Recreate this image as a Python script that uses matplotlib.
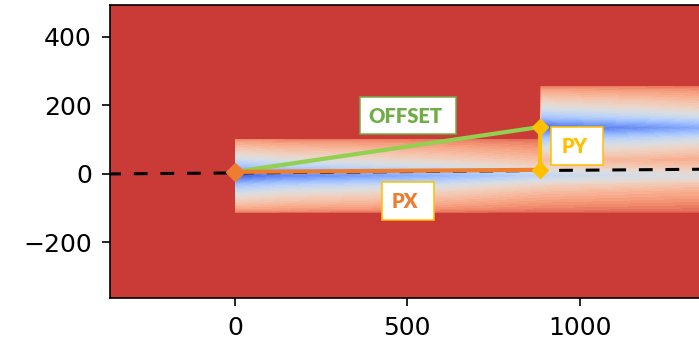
import numpy as np
import matplotlib.pyplot as plt
from matplotlib.patches import Rectangle

# --- turbines (position of rotor, wake core, wake half width) ---
turb_x = [0, 884]
turb_y = [-5, 135]
turb_r = [110, 123]

# lateral wake profile: offset from core (fraction of half width) -> deficit
prof_dy = [0.0, 0.1, 0.25, 0.45, 0.7, 0.9, 1.0]
prof_def = [0.78, 0.70, 0.55, 0.42, 0.30, 0.20, 0.12]

# streamwise strength of each wake (distance behind rotor -> factor)
amp_dx = [0, 60, 150, 300, 600, 900, 1300]
amp_t1 = [1.18, 1.12, 1.05, 1.00, 0.88, 0.70, 0.60]
amp_t2 = [1.15, 1.12, 1.08, 1.02, 0.85, 0.70, 0.60]
bg_level = 0.95

# annotation points
p_start = (0, 6)
p_px = (884, 12)
p_py = (884, 137)
dash_x = [-370, 1390]
dash_y = [0, 14]

# field
xx, yy = np.meshgrid(np.linspace(-400, 1400, 900), np.linspace(-400, 520, 460))
deficit = np.zeros_like(xx)
for tx, ty, tr, amp in zip(turb_x, turb_y, turb_r, [amp_t1, amp_t2]):
    dx = xx - tx
    dy = np.abs(yy - ty) / tr
    d = np.interp(dy, prof_dy, prof_def) * np.interp(dx, amp_dx, amp)
    d[(dx < 0) | (dy > 1)] = 0
    deficit = np.maximum(deficit, d)
field = np.clip(bg_level - deficit, 0, 1)

fig = plt.figure(figsize=(6.99, 3.49), dpi=100)
ax = fig.add_axes([110 / 699, 51 / 349, 603 / 699, 293 / 349])
ax.contourf(xx, yy, field, levels=np.linspace(0, 1, 41), cmap='coolwarm', vmin=0, vmax=1)

ax.plot(dash_x, dash_y, color='black', lw=2.2, dashes=(4.5, 4.2))
ax.plot([p_start[0], p_py[0]], [p_start[1], p_py[1]], color='#92D050', lw=3, solid_capstyle='butt')
ax.plot([p_start[0], p_px[0]], [p_start[1], p_px[1]], color='#ED7D31', lw=3)
ax.plot([p_px[0], p_py[0]], [p_px[1], p_py[1]], color='#FFC000', lw=3)
ax.plot(*p_start, marker='D', color='#ED7D31', ms=9)
ax.plot([p_px[0], p_py[0]], [p_px[1], p_py[1]], 'D', color='#FFC000', ms=8)

# label boxes
labels = [('OFFSET', 362, 117, 279, 108, '#70AD47', '#70AD47'),
          ('PX', 426, -134, 151, 111, '#ED7D31', '#FFC000'),
          ('PY', 916, 26, 151, 111, '#FFC000', '#FFC000')]
for txt, bx, by, bw, bh, tc, ec in labels:
    ax.add_patch(Rectangle((bx, by), bw, bh, facecolor='white', edgecolor=ec, lw=1.1, zorder=5))
    ax.text(bx + bw / 2 - 8, by + bh / 2 - 2, txt, color=tc, fontsize=14.5, fontweight='heavy',
            family=['Lato', 'DejaVu Sans'], ha='center', va='center', zorder=6)

ax.set_xlim(-362, 1386)
ax.set_ylim(-362, 493)
ax.set_xticks([0, 500, 1000])
ax.set_yticks([-200, 0, 200, 400])
ax.tick_params(labelsize=18, length=6, width=1.2, pad=7)
for s in ax.spines.values():
    s.set_linewidth(1.2)

plt.savefig('out.png', dpi=100)
plt.close()
